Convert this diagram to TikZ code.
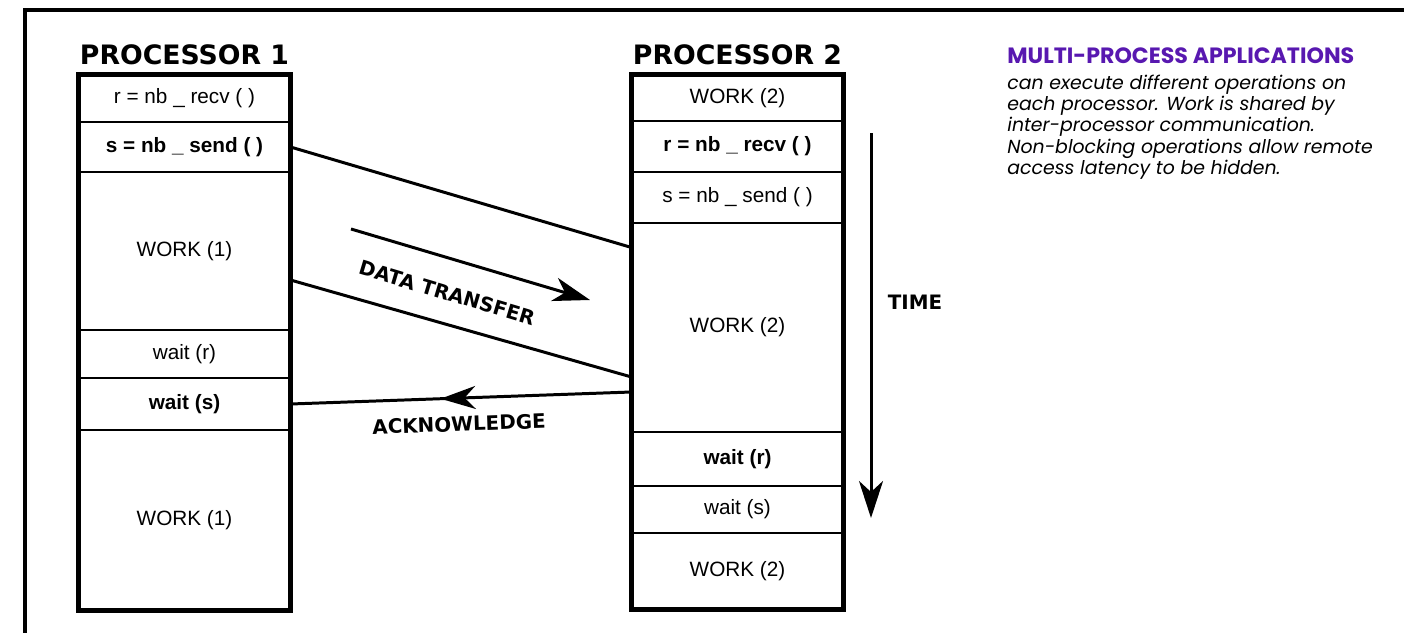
\documentclass[tikz,border=0pt]{standalone}
\usepackage{fontspec}
\setmainfont{Liberation Sans}
\newfontfamily\headfont{DejaVu Sans}
\newfontfamily\notefont{Poppins}
\usetikzlibrary{arrows.meta,positioning,decorations.markings}
\definecolor{mpviolet}{RGB}{88,24,176}

\begin{document}
\begin{tikzpicture}[
  cell/.style={draw, line width=1.1pt, minimum width=4.24cm, outer sep=0pt,
               inner sep=0pt, font=\fontsize{11.8}{13}\selectfont},
  boldcell/.style={cell, font=\fontsize{11.8}{13}\selectfont\bfseries},
  proc/.style={inner sep=0pt, font=\headfont\bfseries\fontsize{15.2}{17}\selectfont},
  tag/.style={inner sep=0pt, font=\headfont\bfseries\fontsize{11.3}{13}\selectfont},
  outline/.style={line width=2.8pt},
  wire/.style={line width=1.7pt},
  bigtip/.style={-{Stealth[length=7.4mm, width=4.8mm, inset=2.2mm]}}
]
\useasboundingbox (0,0) rectangle (28.08,-12.64);
% outer frame
\draw[line width=2.3pt] (0.5,-12.8) |- (28.3,-0.2);

% Processor 1
\node[cell, minimum height=0.95cm, anchor=north] (p1r1) at (3.69,-1.49) {r = nb \_ recv ( )};
\node[boldcell, minimum height=1.0cm, below=0pt of p1r1] (p1r2) {s = nb \_ send ( )};
\node[cell, minimum height=3.16cm, below=0pt of p1r2] (p1r3) {WORK (1)};
\node[cell, minimum height=0.96cm, below=0pt of p1r3] (p1r4) {wait (r)};
\node[boldcell, minimum height=1.04cm, below=0pt of p1r4] (p1r5) {wait (s)};
\node[cell, minimum height=3.61cm, below=0pt of p1r5] (p1r6) {WORK (1)};
\draw[outline] (p1r1.north west) rectangle (p1r6.south east);
\node[proc, above=1.9mm of p1r1] (p1) {PROCESSOR 1};

% Processor 2
\node[cell, minimum height=0.93cm, anchor=north] (p2r1) at (14.75,-1.49) {WORK (2)};
\node[boldcell, minimum height=1.02cm, below=0pt of p2r1] (p2r2) {r = nb \_ recv ( )};
\node[cell, minimum height=1.02cm, below=0pt of p2r2] (p2r3) {s = nb \_ send ( )};
\node[cell, minimum height=4.18cm, below=0pt of p2r3] (p2r4) {WORK (2)};
\node[boldcell, minimum height=1.08cm, below=0pt of p2r4] (p2r5) {wait (r)};
\node[cell, minimum height=0.94cm, below=0pt of p2r5] (p2r6) {wait (s)};
\node[cell, minimum height=1.53cm, below=0pt of p2r6] (p2r7) {WORK (2)};
\draw[outline] (p2r1.north west) rectangle (p2r7.south east);
\node[proc, above=1.9mm of p2r1] (p2) {PROCESSOR 2};

% data transfer band
\coordinate[below=4.9mm of p2r4.north west] (d1);
\coordinate[below=21.6mm of p1r3.north east] (d2);
\coordinate[below=30.8mm of p2r4.north west] (d3);
\draw[wire] (p1r2.east) -- (d1);
\draw[wire] (d2) -- (d3);
\coordinate (dts) at (7.02,-4.58);
\coordinate (dte) at (11.8,-6.0);
\draw[wire, bigtip] (dts) -- (dte);
\node[tag, rotate=-16.6] (dt) at (8.94,-5.86) {DATA TRANSFER};

% acknowledge
\coordinate[below=33.8mm of p2r4.north west] (a1);
\draw[wire, postaction=decorate, decoration={markings,
      mark=at position 0.56 with {\arrow{Stealth[length=7mm, width=4.6mm, inset=2.2mm]}}}]
      (a1) -- (p1r5.east);
\node[tag, rotate=2] (ack) at (9.18,-8.48) {ACKNOWLEDGE};

% time axis
\coordinate (ts) at (17.42,-2.66);
\coordinate (te) at (17.42,-10.36);
\draw[wire, bigtip] (ts) -- (te);
\node[tag] (time) at (18.3,-6.04) {TIME};

% note
\node[anchor=base west, inner sep=0pt, text=mpviolet,
      font=\notefont\bfseries\fontsize{12.6}{14}\selectfont] (mphead) at (20.14,-1.26)
      {MULTI-PROCESS APPLICATIONS};
\node[below=2.2mm of mphead.south west, anchor=north west, inner sep=0pt, align=left,
      font=\notefont\itshape\fontsize{10.75}{12.1}\selectfont] (mpnote)
      {can execute different operations on\\
       each processor. Work is shared by\\
       inter-processor communication.\\
       Non-blocking operations allow remote\\
       access latency to be hidden.};
\end{tikzpicture}
\end{document}
